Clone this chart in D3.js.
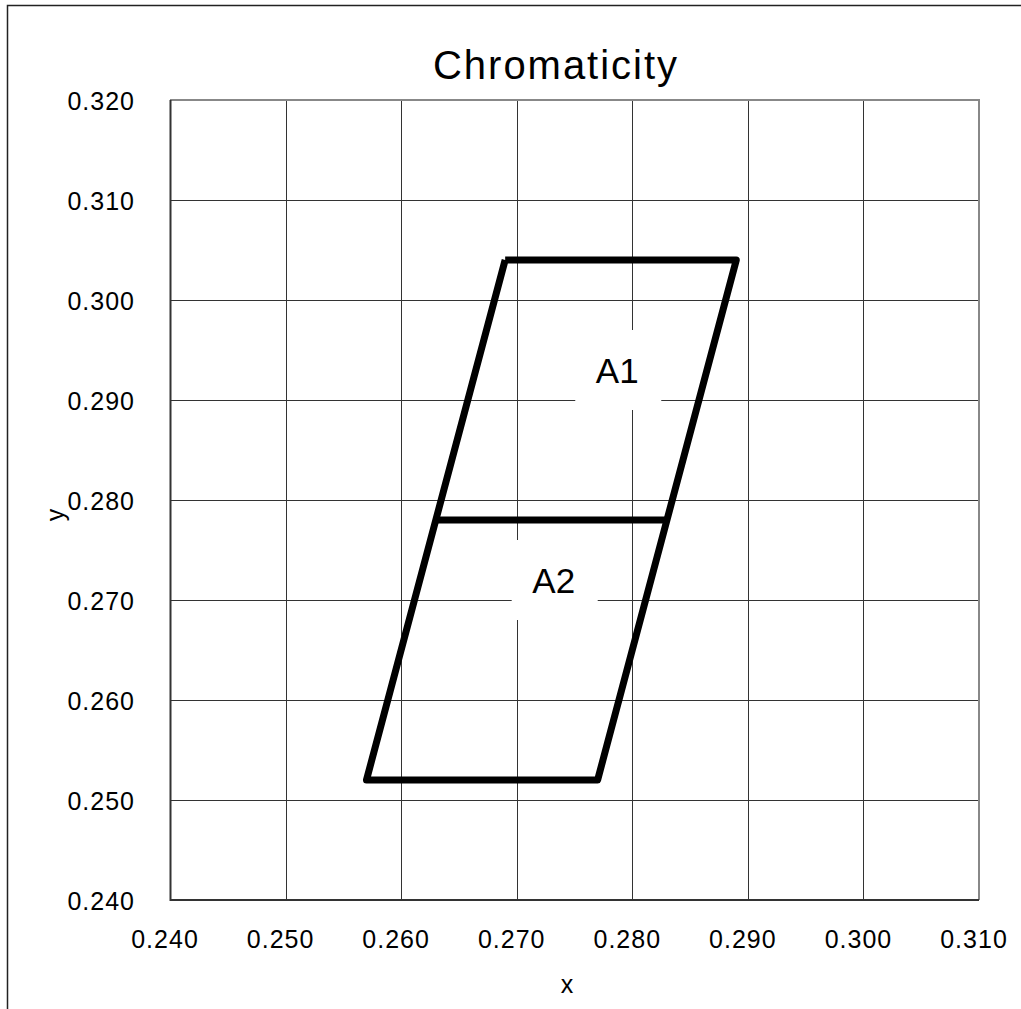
<!DOCTYPE html>
<html>
<head>
<meta charset="utf-8">
<script src="https://cdn.jsdelivr.net/npm/d3@7"></script>
<style>
  body { margin: 0; background: #fff; }
  text { font-family: "Liberation Sans", Arial, sans-serif; fill: #000; }
</style>
</head>
<body>
<div id="chart"></div>
<script>
// Chromaticity regions A1 / A2

const xTicks = [0.24, 0.25, 0.26, 0.27, 0.28, 0.29, 0.30, 0.31];
const yTicks = [0.24, 0.25, 0.26, 0.27, 0.28, 0.29, 0.30, 0.31, 0.32];

// outline of the whole region, then the dividing line
const outlineX = [0.269, 0.289, 0.277, 0.257, 0.269];
const outlineY = [0.304, 0.304, 0.252, 0.252, 0.304];
const dividerX = [0.263, 0.283];
const dividerY = [0.278, 0.278];

const labelNames = ["A1", "A2"];
const labelX = [0.2787, 0.2732];
const labelY = [0.2930, 0.2720];

const W = 1021, H = 1009;
const margin = {top: 100, right: 42, bottom: 109, left: 170};
const width = W - margin.left - margin.right;
const height = H - margin.top - margin.bottom;

const svg = d3.select("#chart").append("svg")
    .attr("width", W)
    .attr("height", H);

// outer frame (only top and left visible)
svg.append("path")
    .attr("d", `M7.5,${H} V5.5 H${W}`)
    .attr("fill", "none")
    .attr("stroke", "#222")
    .attr("stroke-width", 1.5);

const g = svg.append("g")
    .attr("transform", `translate(${margin.left},${margin.top})`);

const x = d3.scaleLinear().domain([0.24, 0.31]).range([0, width]);
const y = d3.scaleLinear().domain([0.24, 0.32]).range([height, 0]);

// grid
g.selectAll(".gx")
    .data(xTicks.slice(1, -1))
    .enter().append("line")
    .attr("x1", d => Math.round(x(d)) + 0.5)
    .attr("x2", d => Math.round(x(d)) + 0.5)
    .attr("y1", 0)
    .attr("y2", height)
    .attr("stroke", "#333")
    .attr("stroke-width", 1);

g.selectAll(".gy")
    .data(yTicks.slice(1, -1))
    .enter().append("line")
    .attr("x1", 0)
    .attr("x2", width)
    .attr("y1", d => Math.round(y(d)) + 0.5)
    .attr("y2", d => Math.round(y(d)) + 0.5)
    .attr("stroke", "#333")
    .attr("stroke-width", 1);

// plot border
g.append("path")
    .attr("d", `M0,0 H${width} V${height}`)
    .attr("fill", "none")
    .attr("stroke", "#888")
    .attr("stroke-width", 2);
g.append("path")
    .attr("d", `M0.5,0 V${height} H${width}`)
    .attr("fill", "none")
    .attr("stroke", "#333")
    .attr("stroke-width", 2);

// tick labels
g.selectAll(".xl")
    .data(xTicks)
    .enter().append("text")
    .attr("x", d => x(d) - 5)
    .attr("y", height + 48)
    .attr("text-anchor", "middle")
    .style("font-size", "25px")
    .style("letter-spacing", "1px")
    .text(d => d.toFixed(3));

g.selectAll(".yl")
    .data(yTicks)
    .enter().append("text")
    .attr("x", -35)
    .attr("y", d => y(d) + 10)
    .attr("text-anchor", "end")
    .style("font-size", "25px")
    .style("letter-spacing", "1px")
    .text(d => d.toFixed(3));

// region lines
const line = d3.line().x(d => x(d[0])).y(d => y(d[1]));

g.append("path")
    .datum(d3.zip(outlineX, outlineY))
    .attr("d", line)
    .attr("fill", "none")
    .attr("stroke", "#000")
    .attr("stroke-width", 7)
    .attr("stroke-linejoin", "round");

g.append("path")
    .datum(d3.zip(dividerX, dividerY))
    .attr("d", line)
    .attr("fill", "none")
    .attr("stroke", "#000")
    .attr("stroke-width", 7);

// region labels with white boxes
const labels = g.selectAll(".lab")
    .data(labelNames.map((n, i) => ({name: n, x: labelX[i], y: labelY[i]})))
    .enter().append("g")
    .attr("transform", d => `translate(${x(d.x)},${y(d.y)})`);

labels.append("rect")
    .attr("x", -42)
    .attr("y", -40)
    .attr("width", 86)
    .attr("height", 80)
    .attr("fill", "#fff");

labels.append("text")
    .attr("y", 13)
    .attr("text-anchor", "middle")
    .style("font-size", "35px")
    .text(d => d.name);

// titles
svg.append("text")
    .attr("x", 555)
    .attr("y", 79)
    .attr("text-anchor", "middle")
    .attr("textLength", 244)
    .attr("lengthAdjust", "spacing")
    .style("font-size", "40px")
    .text("Chromaticity");

svg.append("text")
    .attr("x", 567)
    .attr("y", 993)
    .attr("text-anchor", "middle")
    .style("font-size", "25px")
    .text("x");

svg.append("text")
    .attr("transform", "translate(64,515) rotate(-90)")
    .attr("text-anchor", "middle")
    .style("font-size", "25px")
    .text("y");
</script>
</body>
</html>
